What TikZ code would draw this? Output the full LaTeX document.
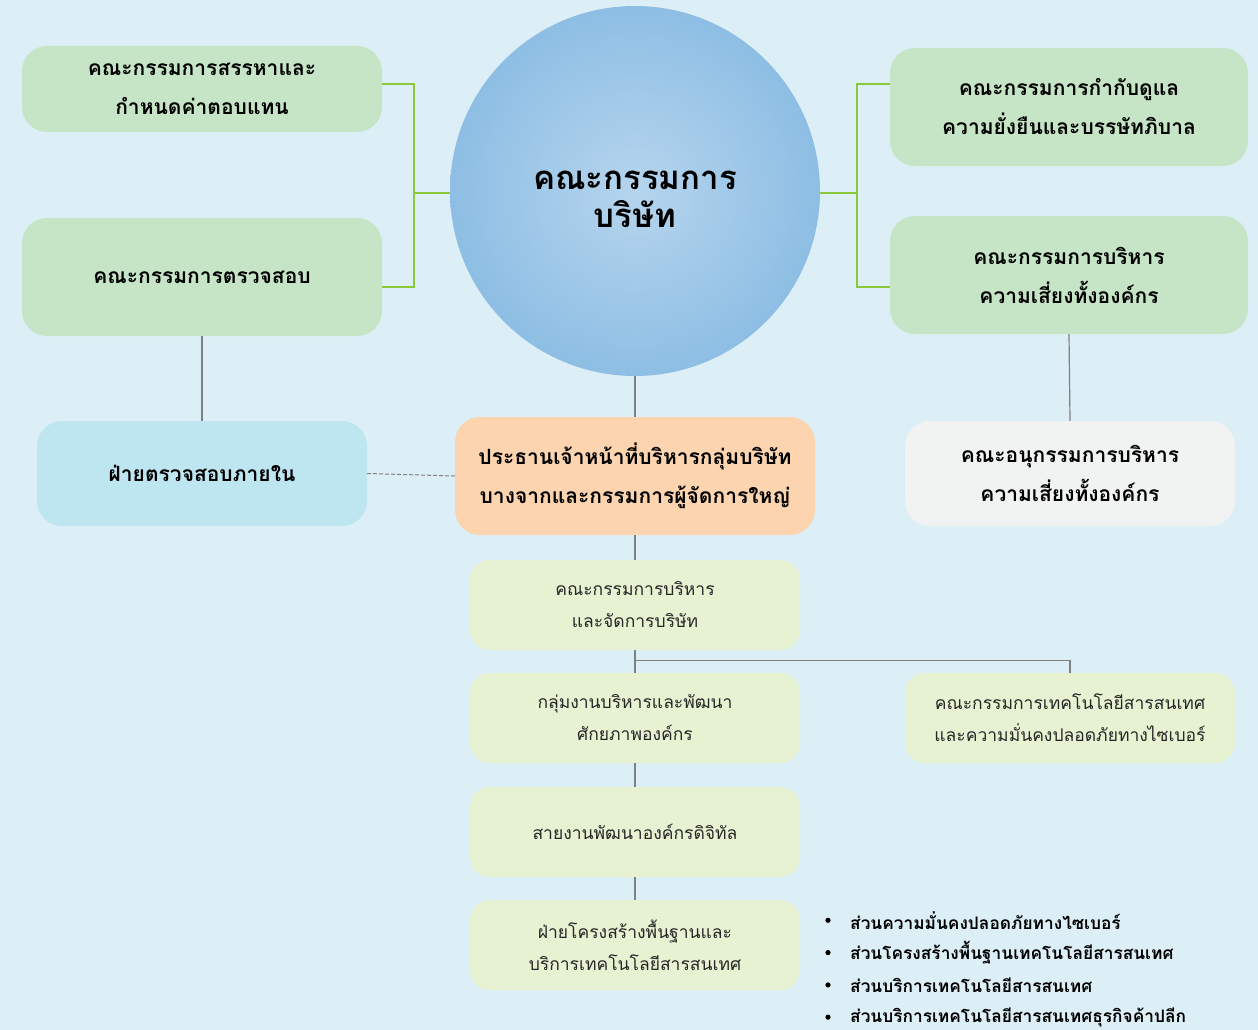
\documentclass[tikz,border=0pt]{standalone}
\usepackage{fontspec}
\setmainfont[Script=Thai]{Loma}
\definecolor{fondo}{RGB}{221,239,246}
\definecolor{verde}{RGB}{198,229,198}
\definecolor{celeste}{RGB}{190,230,241}
\definecolor{naranja}{RGB}{252,212,176}
\definecolor{crema}{RGB}{231,242,210}
\definecolor{blanco}{RGB}{241,243,243}
\definecolor{azul}{RGB}{142,190,228}
\definecolor{lineaverde}{RGB}{140,200,60}
\definecolor{lineagris}{RGB}{128,128,128}
\tikzstyle{comite} = [rectangle, rounded corners=25pt, fill=verde, minimum width=360pt, minimum height=118pt, align=center, font=\fontsize{21}{39}\selectfont\bfseries]
\tikzstyle{unidad} = [rectangle, rounded corners=20pt, fill=crema, minimum width=330pt, minimum height=90pt, align=center, text=black!85, font=\fontsize{17.5}{32}\selectfont]
\tikzstyle{verdelinea} = [draw=lineaverde, line width=1.5pt]
\tikzstyle{grislinea} = [draw=lineagris, line width=1.2pt]

\begin{document}
\begin{tikzpicture}[x=1pt, y=-1pt]
    \fill [fondo] (0,0) rectangle (1258,1030);
    \useasboundingbox (0,0) rectangle (1258,1030);

    \node [circle, minimum size=370pt, inner color=azul!65, outer color=azul,
           label={[font=\fontsize{33}{38}\selectfont\bfseries, align=center, yshift=-8pt]center:คณะกรรมการ\\บริษัท}] (board) at (635,191) {};

    \node [comite, minimum height=86pt] (nominate) at (202,89) {คณะกรรมการสรรหาและ\\กำหนดค่าตอบแทน};
    \node [comite] (audit) at (202,277) {คณะกรรมการตรวจสอบ};
    \node [comite, minimum width=358pt] (sustain) at (1069,107) {คณะกรรมการกำกับดูแล\\ความยั่งยืนและบรรษัทภิบาล};
    \node [comite, minimum width=358pt] (risk) at (1069,275) {คณะกรรมการบริหาร\\ความเสี่ยงทั้งองค์กร};

    \node [comite, fill=celeste, minimum width=330pt, minimum height=105pt] (internal) at (202,473.5) {ฝ่ายตรวจสอบภายใน};
    \node [comite, fill=naranja] (ceo) at (635,476) {ประธานเจ้าหน้าที่บริหารกลุ่มบริษัท\\บางจากและกรรมการผู้จัดการใหญ่};
    \node [comite, fill=blanco, minimum width=330pt, minimum height=105pt] (subrisk) at (1070,473.5) {คณะอนุกรรมการบริหาร\\ความเสี่ยงทั้งองค์กร};

    \node [unidad] (mgmt) at (635,605) {คณะกรรมการบริหาร\\และจัดการบริษัท};
    \node [unidad] (develop) at (635,718) {กลุ่มงานบริหารและพัฒนา\\ศักยภาพองค์กร};
    \node [unidad] (itcomm) at (1070,718) {คณะกรรมการเทคโนโลยีสารสนเทศ\\และความมั่นคงปลอดภัยทางไซเบอร์};
    \node [unidad] (digital) at (635,832) {สายงานพัฒนาองค์กรดิจิทัล};
    \node [unidad] (infra) at (635,945) {ฝ่ายโครงสร้างพื้นฐานและ\\บริการเทคโนโลยีสารสนเทศ};

    % green connectors to the board
    \draw [verdelinea] ([yshift=5pt]nominate.east) -- ++(32,0) |- ([yshift=-10pt]audit.east);
    \draw [verdelinea] ([yshift=-2pt]board.west) -- ++(-36,0);
    \draw [verdelinea] ([yshift=23pt]sustain.west) -- ++(-33,0) |- ([yshift=-12pt]risk.west);
    \draw [verdelinea] ([yshift=-2pt]board.east) -- ++(37,0);

    % grey connectors
    \draw [grislinea] (audit.south) -- (internal.north);
    \draw [grislinea] (risk.south) -- (subrisk.north);
    \draw [grislinea] (board.south) -- (ceo.north);
    \draw [grislinea, line width=1pt, dash pattern=on 4pt off 2pt] (internal.east) -- (ceo.west);
    \draw [grislinea] (ceo.south) -- (mgmt.north);
    \draw [grislinea] (mgmt.south) -- (develop.north);
    \draw [grislinea] (mgmt.south) ++(0,10) -| (itcomm.north);
    \draw [grislinea] (develop.south) -- (digital.north);
    \draw [grislinea] (digital.south) -- (infra.north);

    \foreach \texto [count=\i] in {ส่วนความมั่นคงปลอดภัยทางไซเบอร์, ส่วนโครงสร้างพื้นฐานเทคโนโลยีสารสนเทศ, ส่วนบริการเทคโนโลยีสารสนเทศ, ส่วนบริการเทคโนโลยีสารสนเทศธุรกิจค้าปลีก}
    {
        \fill (828, 888+32.3*\i) circle (2.6pt);
        \node [anchor=west, inner sep=0pt, font=\fontsize{17.3}{20}\selectfont\bfseries] (item\i) at (850, 888+32.3*\i) {\texto};
    }
\end{tikzpicture}
\end{document}
